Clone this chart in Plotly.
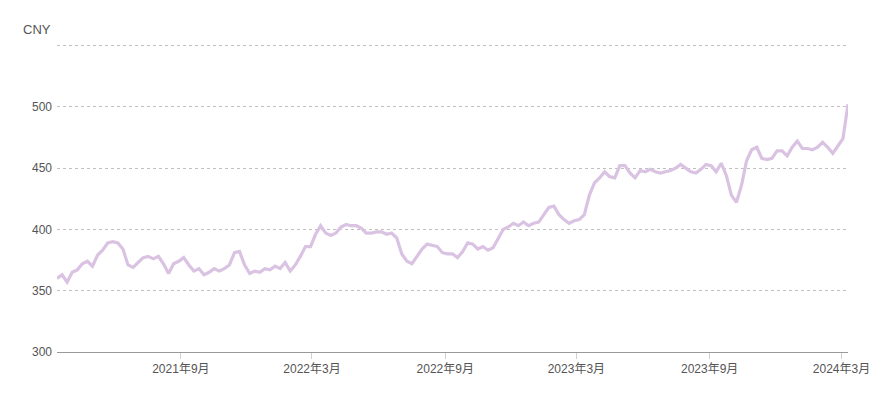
import pandas as pd
import plotly.graph_objects as go

start_date = "2021-03-14"
prices = [
    360, 363, 357, 365, 367, 372, 374, 370, 379, 383,
    389, 390, 389, 384, 371, 369, 373, 377, 378, 376,
    378, 372, 364, 372, 374, 377, 371, 366, 368, 363,
    365, 368, 366, 368, 371, 381, 382, 371, 364, 366,
    365, 368, 367, 370, 368, 373, 366, 371, 378, 386,
    386, 396, 403, 397, 395, 397, 402, 404, 403, 403,
    401, 397, 397, 398, 398, 396, 397, 393, 380, 374,
    372, 378, 384, 388, 387, 386, 381, 380, 380, 377,
    382, 389, 388, 384, 386, 383, 385, 392, 400, 402,
    405, 403, 406, 403, 405, 406, 412, 418, 419, 412,
    408, 405, 407, 408, 412, 428, 438, 442, 447, 443,
    442, 452, 452, 446, 442, 448, 447, 449, 447, 446,
    447, 448, 450, 453, 450, 447, 446, 449, 453, 452,
    447, 454, 444, 428, 422, 436, 456, 465, 467, 458,
    457, 458, 464, 464, 460, 467, 472, 466, 466, 465,
    467, 471, 467, 462, 468, 474, 502,
]
dates = pd.date_range(start=start_date, periods=len(prices), freq="7D")

tick_dates = ["2021-09-01", "2022-03-01", "2022-09-01", "2023-03-01", "2023-09-01", "2024-03-01"]
tick_labels = ["2021年9月", "2022年3月", "2022年9月", "2023年3月", "2023年9月", "2024年3月"]
y_ticks = [300, 350, 400, 450, 500, 550]
y_labels = ["300", "350", "400", "450", "500", ""]
y_top = 550

fig = go.Figure()
fig.add_trace(go.Scatter(
    x=dates, y=prices, mode="lines",
    line=dict(color="#dac3e2", width=3.2),
    hoverinfo="x+y", showlegend=False,
))

font_family = "Liberation Sans, Arial, Noto Sans CJK SC, sans-serif"
fig.update_layout(
    width=878, height=390,
    margin=dict(l=49, r=38, t=37, b=46),
    paper_bgcolor="white", plot_bgcolor="white",
    font=dict(family=font_family, size=12, color="#555555"),
    xaxis=dict(
        range=[dates[0], dates[-1]],
        tickvals=tick_dates, ticktext=tick_labels,
        showgrid=False, zeroline=False,
        showline=True, linecolor="#999999", linewidth=1,
        ticks="outside", ticklen=6, tickcolor="#d0d0d0", tickwidth=1,
        tickfont=dict(size=12, color="#555555"),
    ),
    yaxis=dict(
        range=[300, 550.4],
        tickvals=y_ticks, ticktext=y_labels,
        showgrid=True, gridcolor="#c0c0c0", gridwidth=1, griddash="dot",
        zeroline=False, showline=False, ticks="",
        ticklabelstandoff=4,
        tickfont=dict(size=12, color="#555555"),
    ),
    shapes=[dict(
        type="line", xref="paper", x0=0, x1=1, yref="y", y0=y_top, y1=y_top,
        line=dict(color="#c0c0c0", width=1, dash="dot"), layer="below",
    )],
    annotations=[dict(
        text="CNY", xref="paper", yref="paper", x=-0.045, y=1.052,
        xanchor="left", yanchor="middle", showarrow=False,
        font=dict(size=13, color="#555555"),
    )],
)

fig.write_html("out.html")
